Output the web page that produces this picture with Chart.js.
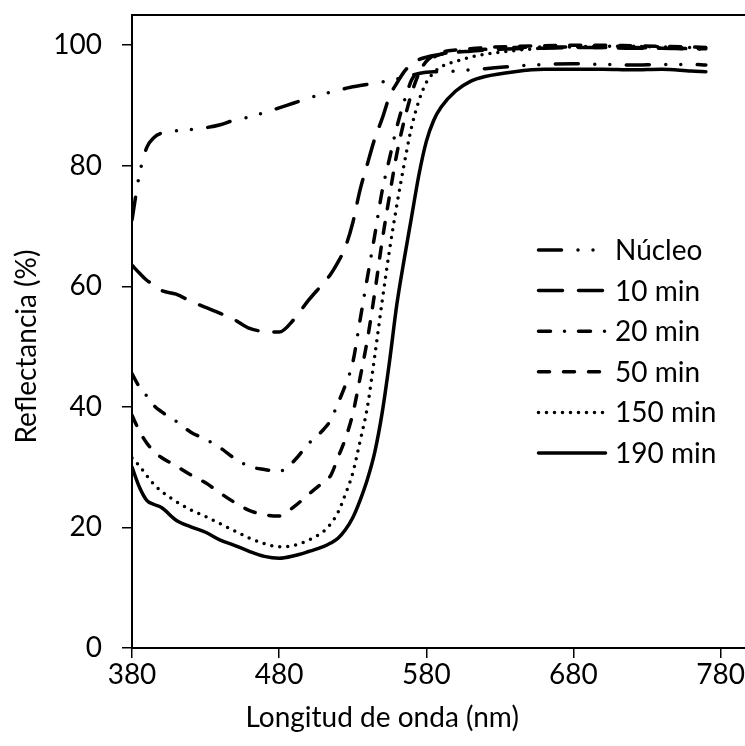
<!DOCTYPE html>
<html>
<head>
<meta charset="utf-8">
<script src="https://cdn.jsdelivr.net/npm/chart.js@4.4.1/dist/chart.umd.min.js"></script>
<style>
  html, body { margin: 0; padding: 0; background: #fff; overflow: hidden; }
  #wrap { width: 750px; height: 746px; }
</style>
</head>
<body>
<div id="wrap"><canvas id="chart"></canvas></div>
<script>
// wavelengths (nm) shared by all series
const wavelengths = [380, 385, 390, 395, 400, 410, 420, 430, 440, 450, 460, 470, 480, 490, 500, 510, 515, 520, 525, 530, 535, 540, 545, 550, 555, 560, 565, 570, 575, 580, 585, 590, 600, 610, 620, 640, 660, 680, 700, 720, 740, 760, 770];

const nucleo = [71, 78.5, 83, 84.7, 85.4, 85.8, 86, 86.3, 86.8, 87.6, 88.1, 88.8, 89.6, 90.4, 91.2, 91.9, 92.2, 92.5, 92.8, 93.1, 93.3, 93.5, 93.7, 93.9, 94.1, 94.4, 94.7, 95, 95.3, 95.5, 95.6, 95.6, 95.7, 95.9, 96.1, 96.5, 96.8, 96.9, 96.8, 96.7, 96.8, 96.8, 96.7];
const min10 = [63.5, 62.2, 61, 60.2, 59.3, 58.7, 57.5, 56.5, 55.5, 54.4, 53, 52.5, 52.4, 54.5, 57.7, 60.5, 62, 64, 66.5, 70.5, 76, 80.3, 84.5, 87.8, 91.5, 93.7, 95.6, 96.9, 97.6, 98, 98.3, 98.5, 98.8, 99, 99.2, 99.4, 99.5, 99.6, 99.6, 99.5, 99.5, 99.4, 99.4];
const min20 = [45.5, 43.3, 41.8, 40.2, 39.2, 37.6, 35.8, 34.6, 33.2, 31.4, 30.1, 29.6, 29.3, 31, 33.9, 36.2, 37.8, 40.6, 43.6, 47.3, 54.4, 61.5, 68.5, 75.8, 81.2, 86.4, 90.7, 94.2, 95.8, 97.2, 98, 98.5, 98.9, 99.1, 99.3, 99.6, 99.7, 99.7, 99.6, 99.6, 99.5, 99.4, 99.3];
const min50 = [38.6, 36, 34, 32.6, 31.6, 30.2, 28.7, 27.4, 25.7, 24.1, 22.8, 22.1, 21.9, 23.4, 25.5, 27.5, 28.6, 31.6, 34.7, 38.8, 44.8, 51.2, 59, 67.5, 75, 82, 87.5, 92, 95.3, 97.3, 98.3, 98.8, 99.2, 99.4, 99.6, 99.8, 99.9, 100, 100, 99.9, 99.8, 99.7, 99.6];
const min150 = [31.5, 30.2, 28.6, 27.1, 26, 24.3, 22.9, 21.8, 20.6, 19.4, 18.2, 17.3, 16.8, 17, 17.9, 19.3, 20.6, 22.5, 25.5, 29, 34.3, 40, 48.5, 57.5, 66, 73.5, 80.3, 86.4, 90.8, 93.8, 95.4, 96.4, 97.3, 98, 98.5, 99.1, 99.5, 99.7, 99.8, 99.8, 99.7, 99.6, 99.6];
const min190 = [30, 26.7, 24.5, 23.8, 23.3, 21.2, 20.1, 19.2, 17.9, 17, 16, 15.2, 14.9, 15.3, 16, 16.8, 17.4, 18.2, 19.6, 21.6, 24.5, 28, 32.5, 39, 47.5, 57, 64.5, 71.5, 78.5, 84, 87.5, 89.7, 92.4, 94, 94.8, 95.6, 96, 96, 96, 95.9, 96, 95.7, 95.6];

const seriesNames = ['Núcleo', '10 min', '20 min', '50 min', '150 min', '190 min'];
const seriesValues = [nucleo, min10, min20, min50, min150, min190];
const xTicks = [380, 480, 580, 680, 780];
const yTicks = [0, 20, 40, 60, 80, 100];

const FONT = 'Lato';
const FSIZE = 28;

// dash patterns, one per series
const dashes = [
    [23, 16.5, 0, 15, 0, 16.5],
    [24, 16],
    [12, 14, 0, 14],
    [11, 14],
    [0, 8],
    []
];

const datasets = seriesNames.map(function(name, i){
    return {
        label: name,
        data: wavelengths.map((w, j) => ({x: w, y: seriesValues[i][j]})),
        borderColor: '#000',
        backgroundColor: '#000',
        borderWidth: 3.5,
        borderDash: dashes[i],
        borderCapStyle: 'round',
        borderJoinStyle: 'round',
        pointRadius: 0,
        fill: false,
        tension: 0.4,
        cubicInterpolationMode: 'monotone'
    };
});

// box lines, axis titles and legend
const decor = {
    id: 'decor',
    afterDraw(chart) {
        const ctx = chart.ctx;
        const a = chart.chartArea;
        const xs = chart.scales.x;
        const ys = chart.scales.y;
        ctx.save();
        ctx.strokeStyle = '#000';
        ctx.lineWidth = 2;
        ctx.setLineDash([]);
        ctx.beginPath();
        ctx.moveTo(a.left, a.top);
        ctx.lineTo(a.right, a.top);
        ctx.lineTo(a.right, a.bottom);
        ctx.stroke();

        ctx.fillStyle = '#000';
        ctx.font = FSIZE + 'px ' + FONT;
        ctx.textAlign = 'center';
        ctx.textBaseline = 'middle';
        // x title
        ctx.fillText('Longitud de onda (nm)', xs.getPixelForValue(550), 718);
        // y title
        ctx.translate(27, ys.getPixelForValue(50));
        ctx.rotate(-Math.PI / 2);
        ctx.fillText('Reflectancia (%)', 0, 0);
        ctx.restore();

        // legend
        ctx.save();
        const x0 = a.left + 405;
        const y0 = a.top + 235;
        chart.data.datasets.forEach(function(ds, i){
            const y = y0 + i * 40.6;
            ctx.strokeStyle = '#000';
            ctx.lineWidth = 3.5;
            ctx.lineCap = 'round';
            ctx.setLineDash(ds.borderDash);
            ctx.beginPath();
            ctx.moveTo(x0 + 1.5, y);
            ctx.lineTo(x0 + 68.5, y);
            ctx.stroke();
            ctx.setLineDash([]);
            ctx.fillStyle = '#000';
            ctx.font = FSIZE + 'px ' + FONT;
            ctx.textAlign = 'left';
            ctx.textBaseline = 'middle';
            ctx.fillText(ds.label, x0 + 78, y + 1);
        });
        ctx.restore();
    }
};

new Chart(document.getElementById('chart'), {
    type: 'line',
    data: { datasets: datasets },
    plugins: [decor],
    options: {
        responsive: true,
        maintainAspectRatio: false,
        animation: false,
        layout: { padding: { top: 15, right: 0, left: 0, bottom: 0 } },
        plugins: { legend: { display: false }, tooltip: { enabled: false } },
        scales: {
            x: {
                type: 'linear',
                min: 380,
                max: 800,
                afterBuildTicks: s => { s.ticks = xTicks.map(v => ({value: v})); },
                afterFit: s => { s.height = 98; s.paddingLeft = 0; s.paddingRight = 0; },
                grid: { drawOnChartArea: false, drawTicks: true, tickLength: 10, color: '#000', lineWidth: 1.5 },
                border: { color: '#000', width: 2 },
                ticks: { color: '#000', font: { family: FONT, size: FSIZE }, padding: 0, maxRotation: 0 }
            },
            y: {
                min: 0,
                max: 105,
                afterBuildTicks: s => { s.ticks = yTicks.map(v => ({value: v})); },
                afterFit: s => { s.width = 132; s.paddingTop = 0; s.paddingBottom = 0; },
                grid: { drawOnChartArea: false, drawTicks: true, tickLength: 10, color: '#000', lineWidth: 1.5 },
                border: { color: '#000', width: 2 },
                ticks: { color: '#000', font: { family: FONT, size: FSIZE }, padding: 20 }
            }
        }
    }
});
</script>
</body>
</html>
